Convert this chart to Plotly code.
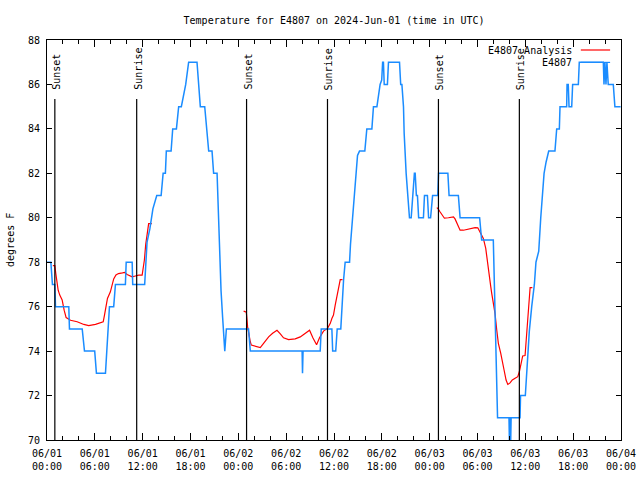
import plotly.graph_objects as go

FONT = "DejaVu Sans Mono"

# ---------------- data ----------------
blue_times = [
    "2024-06-01 00:00", "2024-06-01 00:29", "2024-06-01 00:41", "2024-06-01 00:59", "2024-06-01 01:04",
    "2024-06-01 02:44", "2024-06-01 02:49", "2024-06-01 04:25", "2024-06-01 04:42", "2024-06-01 05:59",
    "2024-06-01 06:12", "2024-06-01 07:20", "2024-06-01 07:30", "2024-06-01 07:39", "2024-06-01 07:50",
    "2024-06-01 08:22", "2024-06-01 08:35", "2024-06-01 09:50", "2024-06-01 09:56", "2024-06-01 10:41",
    "2024-06-01 10:45", "2024-06-01 12:15", "2024-06-01 12:33", "2024-06-01 12:54", "2024-06-01 13:17",
    "2024-06-01 13:46", "2024-06-01 14:19", "2024-06-01 14:34", "2024-06-01 14:51", "2024-06-01 14:58",
    "2024-06-01 15:34", "2024-06-01 15:46", "2024-06-01 16:14", "2024-06-01 16:31", "2024-06-01 16:51",
    "2024-06-01 17:24", "2024-06-01 17:46", "2024-06-01 18:49", "2024-06-01 18:59", "2024-06-01 19:14",
    "2024-06-01 19:47", "2024-06-01 20:17", "2024-06-01 20:42", "2024-06-01 20:54", "2024-06-01 21:20",
    "2024-06-01 21:24", "2024-06-01 21:32", "2024-06-01 21:41", "2024-06-01 21:50", "2024-06-01 22:02",
    "2024-06-01 22:09", "2024-06-01 22:18", "2024-06-01 22:30", "2024-06-02 01:17", "2024-06-02 01:30",
    "2024-06-02 08:00", "2024-06-02 08:03", "2024-06-02 08:07", "2024-06-02 10:16", "2024-06-02 10:24",
    "2024-06-02 11:44", "2024-06-02 11:50", "2024-06-02 12:13", "2024-06-02 12:24", "2024-06-02 12:51",
    "2024-06-02 13:00", "2024-06-02 13:12", "2024-06-02 13:24", "2024-06-02 13:57", "2024-06-02 14:04",
    "2024-06-02 14:15", "2024-06-02 14:32", "2024-06-02 14:47", "2024-06-02 14:57", "2024-06-02 15:12",
    "2024-06-02 15:52", "2024-06-02 16:07", "2024-06-02 16:45", "2024-06-02 16:57", "2024-06-02 17:23",
    "2024-06-02 17:47", "2024-06-02 17:59", "2024-06-02 18:06", "2024-06-02 18:12", "2024-06-02 18:18",
    "2024-06-02 18:42", "2024-06-02 18:50", "2024-06-02 20:13", "2024-06-02 20:22", "2024-06-02 20:31",
    "2024-06-02 20:43", "2024-06-02 20:48", "2024-06-02 21:03", "2024-06-02 21:20", "2024-06-02 21:28",
    "2024-06-02 21:41", "2024-06-02 21:52", "2024-06-02 21:59", "2024-06-02 22:05", "2024-06-02 22:11",
    "2024-06-02 22:20", "2024-06-02 22:28", "2024-06-02 22:37", "2024-06-02 23:13", "2024-06-02 23:21",
    "2024-06-02 23:43", "2024-06-02 23:52", "2024-06-03 00:07", "2024-06-03 00:22", "2024-06-03 01:01",
    "2024-06-03 01:07", "2024-06-03 02:17", "2024-06-03 02:26", "2024-06-03 03:36", "2024-06-03 03:49",
    "2024-06-03 06:16", "2024-06-03 06:31", "2024-06-03 07:59", "2024-06-03 08:05", "2024-06-03 08:12",
    "2024-06-03 08:20", "2024-06-03 08:31", "2024-06-03 09:57", "2024-06-03 10:00", "2024-06-03 10:03",
    "2024-06-03 10:07", "2024-06-03 10:10", "2024-06-03 10:13", "2024-06-03 11:20", "2024-06-03 11:24",
    "2024-06-03 12:00", "2024-06-03 12:15", "2024-06-03 12:30", "2024-06-03 12:48", "2024-06-03 13:08",
    "2024-06-03 13:20", "2024-06-03 13:41", "2024-06-03 13:56", "2024-06-03 14:08", "2024-06-03 14:21",
    "2024-06-03 14:36", "2024-06-03 14:56", "2024-06-03 15:43", "2024-06-03 15:56", "2024-06-03 16:16",
    "2024-06-03 16:21", "2024-06-03 17:11", "2024-06-03 17:14", "2024-06-03 17:23", "2024-06-03 17:29",
    "2024-06-03 17:49", "2024-06-03 17:56", "2024-06-03 18:39", "2024-06-03 18:46", "2024-06-03 21:47",
    "2024-06-03 21:52", "2024-06-03 21:59", "2024-06-03 22:07", "2024-06-03 22:14", "2024-06-03 22:24",
    "2024-06-03 23:02", "2024-06-03 23:14", "2024-06-03 23:57",
]
blue_temps = [
    78, 78, 77, 77, 76,
    76, 75, 75, 74, 74,
    73, 73, 74, 75, 76,
    76, 77, 77, 78, 78,
    77, 77, 78.9, 79.5, 80.4,
    81, 81, 82, 82, 83,
    83, 84, 84, 85, 85,
    86, 87, 87, 86, 85,
    85, 83, 83, 82, 82,
    81.2, 79.7, 78.2, 76.7, 75.5,
    74.5, 74, 75, 75, 74,
    74, 73, 74, 74, 75,
    75, 74, 74, 75, 75,
    76, 77.2, 78, 78, 78.8,
    79.7, 80.8, 81.9, 82.8, 83,
    83, 84, 84, 85, 85,
    86, 86.2, 87, 87, 86,
    86, 87, 87, 86, 86,
    85, 83.8, 82, 80.6, 80,
    80, 81, 81.3, 82, 82,
    81, 81, 80, 80, 81,
    81, 80, 80, 81, 81,
    82, 82, 81, 81, 80,
    80, 79, 79, 77.5, 75.8,
    73.2, 71, 71, 70, 71,
    71, 70, 71, 71, 72,
    72, 73.5, 74.9, 76, 77,
    78, 78.5, 80, 81.1, 82,
    82.5, 83, 83, 84, 84,
    85, 85, 86, 86, 85,
    85, 86, 86, 87, 87,
    86, 87, 86, 87, 86,
    86, 85, 85,
]

red1_times = [
    "2024-06-01 00:44", "2024-06-01 00:59", "2024-06-01 01:06", "2024-06-01 01:17", "2024-06-01 01:24",
    "2024-06-01 01:36", "2024-06-01 01:54", "2024-06-01 02:09", "2024-06-01 02:24", "2024-06-01 02:57",
    "2024-06-01 03:47", "2024-06-01 04:37", "2024-06-01 05:14", "2024-06-01 06:05", "2024-06-01 06:42",
    "2024-06-01 07:03", "2024-06-01 07:12", "2024-06-01 07:22", "2024-06-01 07:35", "2024-06-01 07:57",
    "2024-06-01 08:10", "2024-06-01 08:22", "2024-06-01 08:39", "2024-06-01 08:58", "2024-06-01 09:28",
    "2024-06-01 09:45", "2024-06-01 10:03", "2024-06-01 10:20", "2024-06-01 10:41", "2024-06-01 11:05",
    "2024-06-01 11:30", "2024-06-01 11:56", "2024-06-01 12:03", "2024-06-01 12:13", "2024-06-01 12:23",
    "2024-06-01 12:30", "2024-06-01 12:45", "2024-06-01 13:09",
]
red1_temps = [
    77.85, 77.85, 77.5, 77.0, 76.74,
    76.52, 76.3, 75.84, 75.51, 75.39,
    75.32, 75.2, 75.15, 75.2, 75.3,
    75.32, 75.6, 76.0, 76.37, 76.67,
    76.97, 77.25, 77.43, 77.49, 77.52,
    77.54, 77.45, 77.39, 77.34, 77.38,
    77.42, 77.42, 77.7, 78.1, 78.8,
    79.15, 79.74, 79.74,
]

red2_times = [
    "2024-06-02 00:40", "2024-06-02 01:00", "2024-06-02 01:10", "2024-06-02 01:17", "2024-06-02 01:30",
    "2024-06-02 01:38", "2024-06-02 02:20", "2024-06-02 02:45", "2024-06-02 03:10", "2024-06-02 03:48",
    "2024-06-02 04:18", "2024-06-02 04:51", "2024-06-02 05:16", "2024-06-02 05:40", "2024-06-02 06:18",
    "2024-06-02 07:08", "2024-06-02 07:46", "2024-06-02 08:24", "2024-06-02 08:56", "2024-06-02 09:21",
    "2024-06-02 09:49", "2024-06-02 10:11", "2024-06-02 10:41", "2024-06-02 11:11", "2024-06-02 11:32",
    "2024-06-02 11:44", "2024-06-02 11:56", "2024-06-02 12:09", "2024-06-02 12:22", "2024-06-02 12:34",
    "2024-06-02 12:47", "2024-06-02 13:04",
]
red2_temps = [
    75.8, 75.75, 75.09, 74.79, 74.42,
    74.27, 74.19, 74.16, 74.35, 74.64,
    74.8, 74.94, 74.78, 74.6, 74.52,
    74.55, 74.64, 74.8, 74.94, 74.6,
    74.29, 74.6, 74.9, 75.02, 75.25,
    75.47, 75.62, 76.07, 76.52, 76.9,
    77.22, 77.22,
]

red3_times = [
    "2024-06-03 00:54", "2024-06-03 01:04", "2024-06-03 01:19", "2024-06-03 01:36", "2024-06-03 01:51",
    "2024-06-03 02:21", "2024-06-03 02:59", "2024-06-03 03:11", "2024-06-03 03:29", "2024-06-03 03:49",
    "2024-06-03 04:14", "2024-06-03 04:39", "2024-06-03 05:17", "2024-06-03 05:42", "2024-06-03 06:02",
    "2024-06-03 06:19", "2024-06-03 06:32", "2024-06-03 06:44", "2024-06-03 07:02", "2024-06-03 07:10",
    "2024-06-03 07:22", "2024-06-03 07:40", "2024-06-03 07:47", "2024-06-03 07:59", "2024-06-03 08:12",
    "2024-06-03 08:25", "2024-06-03 08:37", "2024-06-03 08:55", "2024-06-03 09:07", "2024-06-03 09:20",
    "2024-06-03 09:35", "2024-06-03 09:48", "2024-06-03 10:05", "2024-06-03 10:22", "2024-06-03 10:43",
    "2024-06-03 11:03", "2024-06-03 11:15", "2024-06-03 11:28", "2024-06-03 11:40", "2024-06-03 11:58",
    "2024-06-03 12:05", "2024-06-03 12:11", "2024-06-03 12:20", "2024-06-03 12:28", "2024-06-03 12:36",
    "2024-06-03 12:53",
]
red3_temps = [
    80.46, 80.4, 80.26, 80.1, 79.98,
    80.0, 80.04, 79.95, 79.74, 79.44,
    79.44, 79.48, 79.52, 79.56, 79.55,
    79.36, 79.15, 79.07, 78.62, 78.2,
    77.72, 76.89, 76.6, 76.22, 75.69,
    74.94, 74.35, 73.9, 73.6, 73.15,
    72.7, 72.5, 72.57, 72.7, 72.78,
    72.85, 73.07, 73.5, 73.78, 73.8,
    74.35, 74.72, 75.54, 76.13, 76.86,
    76.86,
]

sun_times = ["2024-06-01 00:59", "2024-06-01 11:15", "2024-06-02 01:02",
             "2024-06-02 11:11", "2024-06-03 01:06", "2024-06-03 11:15"]
sun_labels = ["Sunset", "Sunrise", "Sunset", "Sunrise", "Sunset", "Sunrise"]

tick_times = ["2024-06-01 00:00", "2024-06-01 06:00", "2024-06-01 12:00", "2024-06-01 18:00",
              "2024-06-02 00:00", "2024-06-02 06:00", "2024-06-02 12:00", "2024-06-02 18:00",
              "2024-06-03 00:00", "2024-06-03 06:00", "2024-06-03 12:00", "2024-06-03 18:00",
              "2024-06-04 00:00"]
tick_labels = ["06/01<br>00:00", "06/01<br>06:00", "06/01<br>12:00", "06/01<br>18:00",
               "06/02<br>00:00", "06/02<br>06:00", "06/02<br>12:00", "06/02<br>18:00",
               "06/03<br>00:00", "06/03<br>06:00", "06/03<br>12:00", "06/03<br>18:00",
               "06/04<br>00:00"]

series_names = ["E4807 Analysis", "E4807"]
title_text = "Temperature for E4807 on 2024-Jun-01 (time in UTC)"
y_label = "degrees F"

RED = "#ff0000"
BLUE = "#1a8cff"

# ---------------- figure ----------------
red_x = red1_times + [None] + red2_times + [None] + red3_times
red_y = red1_temps + [None] + red2_temps + [None] + red3_temps

fig = go.Figure()
fig.add_trace(go.Scatter(x=red_x, y=red_y, mode="lines", name=series_names[0],
                         line=dict(color=RED, width=1.2), connectgaps=False,
                         showlegend=False))
fig.add_trace(go.Scatter(x=blue_times, y=blue_temps, mode="lines", name=series_names[1],
                         line=dict(color=BLUE, width=1.5), showlegend=False))

shapes = []
annotations = []
for t, lab in zip(sun_times, sun_labels):
    shapes.append(dict(type="line", xref="x", yref="paper", x0=t, x1=t, y0=0, y1=0.8525,
                       line=dict(color="black", width=1.2)))
    annotations.append(dict(x=t, xref="x", y=0.87, yref="paper", text=lab, textangle=-90,
                            showarrow=False, xanchor="center", yanchor="bottom", xshift=1,
                            font=dict(family=FONT, size=10, color="black")))

# manual key (gnuplot style: text then sample on the right)
key_y = [0.975, 0.944]
key_colors = [RED, BLUE]
for name, ky, col in zip(series_names, key_y, key_colors):
    annotations.append(dict(x=0.918, xref="paper", y=ky, yref="paper", text=name,
                            showarrow=False, xanchor="right", yanchor="middle",
                            font=dict(family=FONT, size=10, color="black")))
    shapes.append(dict(type="line", xref="paper", yref="paper", x0=0.930, x1=0.981,
                       y0=ky, y1=ky, line=dict(color=col, width=1.2)))

annotations.append(dict(x=-0.0645, xref="paper", y=0.5, yref="paper", text=y_label,
                        textangle=-90, showarrow=False, xanchor="center", yanchor="middle",
                        font=dict(family=FONT, size=10, color="black")))

fig.update_layout(
    width=640, height=480,
    margin=dict(l=47, r=19, t=40, b=40, pad=0, autoexpand=False),
    paper_bgcolor="white", plot_bgcolor="white",
    font=dict(family=FONT, size=10, color="black"),
    title=dict(text=title_text, x=0.522, xanchor="center", y=1 - 20 / 480, yanchor="middle",
               yref="container", automargin=False,
               font=dict(family=FONT, size=10, color="black")),
    shapes=shapes, annotations=annotations,
    showlegend=False,
)
fig.update_xaxes(
    type="date", range=["2024-06-01 00:00", "2024-06-04 00:00"], automargin=False,
    tickmode="array", tickvals=tick_times, ticktext=tick_labels,
    ticks="inside", ticklen=7, tickcolor="black", tickwidth=1,
    showline=True, linecolor="black", linewidth=1, mirror="allticks",
    showgrid=False, zeroline=False, ticklabelstandoff=4,
    minor=dict(ticks="inside", ticklen=4, dtick=7200000, tick0="2024-06-01",
               tickcolor="black", showgrid=False),
    tickfont=dict(family=FONT, size=10, color="black"),
)
fig.update_yaxes(
    range=[70, 88], tickmode="linear", tick0=70, dtick=2, automargin=False,
    ticks="inside", ticklen=5, tickcolor="black", tickwidth=1,
    showline=True, linecolor="black", linewidth=1, mirror="allticks",
    showgrid=False, zeroline=False, ticklabelstandoff=4,
    tickfont=dict(family=FONT, size=10, color="black"),
)

fig.write_html(
    "out.html",
    config={"displayModeBar": False},
    post_script="document.body.style.margin='0';document.body.style.padding='0';"
                "document.body.style.overflow='hidden';",
)
